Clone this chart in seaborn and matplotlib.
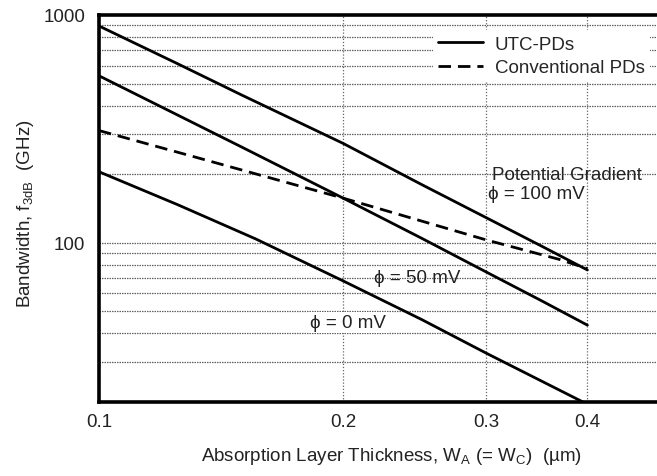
import matplotlib
matplotlib.use('Agg')
import matplotlib.pyplot as plt
from matplotlib.lines import Line2D
from matplotlib.ticker import NullFormatter, NullLocator, LogLocator, FixedLocator
import seaborn as sns

# ========================
# DATA
# ========================
utc100_x = [0.1, 0.125, 0.15, 0.2, 0.25, 0.3, 0.35, 0.4]
utc100_y = [895, 611, 445, 273, 180, 129, 97.3, 76]

utc50_x = [0.1, 0.15, 0.2, 0.25, 0.3, 0.35, 0.4]
utc50_y = [541, 263, 157, 104.6, 74.5, 56, 43.5]

utc0_x = [0.1, 0.125, 0.156, 0.2, 0.25, 0.3, 0.395]
utc0_y = [205, 147, 104, 68, 46, 32.8, 20]

conv_x = [0.1, 0.133, 0.2, 0.3, 0.37, 0.4]
conv_y = [311, 235, 157, 103, 84.4, 77]

x_ticks = [0.1, 0.2, 0.3, 0.4]
x_tick_labels = ['0.1', '0.2', '0.3', '0.4']
y_ticks = [100, 1000]
y_tick_labels = ['100', '1000']

# ========================
# STYLE
# ========================
sns.set_theme(style='white')
plt.rcParams['font.family'] = ['Liberation Sans', 'DejaVu Sans']
plt.rcParams['mathtext.default'] = 'regular'

FS = 13.5
LW = 2.0
TXT = '#222222'

fig = plt.figure(figsize=(6.57, 4.77), dpi=100)
ax = fig.add_axes([99 / 657, 74 / 477, 567 / 657, 387 / 477])

ax.set_xscale('log')
ax.set_yscale('log')

# ========================
# CURVES
# ========================
for xs, ys in [(utc100_x, utc100_y), (utc50_x, utc50_y), (utc0_x, utc0_y)]:
    sns.lineplot(x=xs, y=ys, ax=ax, color='black', lw=LW, zorder=3)

sns.lineplot(x=conv_x, y=conv_y, ax=ax, color='black', lw=LW, zorder=3)
ax.lines[-1].set_dashes((4.5, 2.5))

# ========================
# AXES
# ========================
ax.set_xlim(0.1, 0.5)
ax.set_ylim(20, 1000)

ax.xaxis.set_major_locator(FixedLocator(x_ticks))
ax.set_xticklabels(x_tick_labels)
ax.xaxis.set_minor_locator(NullLocator())
ax.xaxis.set_minor_formatter(NullFormatter())

ax.yaxis.set_major_locator(FixedLocator(y_ticks))
ax.set_yticklabels(y_tick_labels)
ax.yaxis.set_minor_locator(LogLocator(base=10, subs=range(2, 10)))
ax.yaxis.set_minor_formatter(NullFormatter())

ax.tick_params(which='both', length=0, labelsize=FS, colors=TXT)
ax.tick_params(axis='x', pad=8)
ax.tick_params(axis='y', pad=10)

ax.grid(True, which='both', axis='y', color='0.38', lw=0.9, ls=(0, (1.2, 0.8)))
ax.grid(True, which='major', axis='x', color='0.4', lw=0.9, ls=(0, (1, 1.5)))

for side in ['left', 'bottom', 'top', 'right']:
    ax.spines[side].set_color('black')
    ax.spines[side].set_linewidth(2.6)

ax.set_xlabel('Absorption Layer Thickness, W$_A$ (= W$_C$)  (\u00b5m)', fontsize=FS, color=TXT)
ax.set_ylabel('Bandwidth, f$_{3dB}$  (GHz)', fontsize=FS, color=TXT)
ax.xaxis.set_label_coords(0.515, -0.11)
ax.yaxis.set_label_coords(-0.111, 0.49)

# ========================
# LEGEND & LABELS
# ========================
handles = [
    Line2D([], [], color='black', lw=LW),
    Line2D([], [], color='black', lw=LW, dashes=(4.5, 2.5)),
]
leg = ax.legend(handles, ['UTC-PDs', 'Conventional PDs'], loc='upper left',
                bbox_to_anchor=(0.572, 0.986), fontsize=FS, handlelength=2.4,
                handletextpad=0.6, labelspacing=0.35, borderpad=0.3,
                frameon=True, fancybox=False)
leg.get_frame().set_facecolor('white')
leg.get_frame().set_edgecolor('none')
leg.get_frame().set_alpha(1)

ax.text(0.305, 200, 'Potential Gradient', fontsize=FS, va='center', ha='left', color=TXT)
ax.text(0.302, 164, '\u03d5 = 100 mV', fontsize=FS, va='center', ha='left', color=TXT)
ax.text(0.218, 70.4, '\u03d5 = 50 mV', fontsize=FS, va='center', ha='left', color=TXT)
ax.text(0.182, 44.7, '\u03d5 = 0 mV', fontsize=FS, va='center', ha='left', color=TXT,
        bbox=dict(facecolor='white', edgecolor='none', pad=1.5))

fig.savefig('out.png', dpi=100)
plt.close(fig)
